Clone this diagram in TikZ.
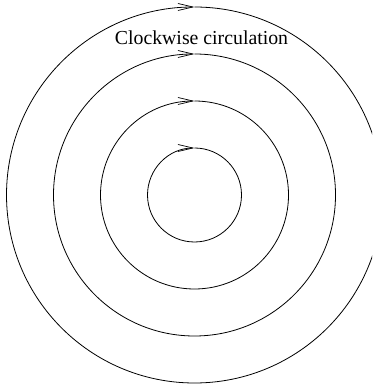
\documentclass[tikz,border=0pt]{standalone}
\usepackage{fontspec}
\setmainfont{Liberation Serif}
\usetikzlibrary{arrows.meta}
\tikzset{
  every picture/.style={x=1pt, y=1pt, line width=0.8pt},
  orbit/.style={draw=black, -{Straight Barb[length=15pt, width=7pt, line width=0.7pt]}},
  caption/.style={font=\fontsize{19.8}{24}\selectfont, anchor=base, inner sep=0pt},
}

\begin{document}
\begin{tikzpicture}
  \useasboundingbox (0,0) rectangle (372,387);
  \clip (0,0) rectangle (372,387);
  \coordinate (c) at (194.5,192);
  \foreach \r in {47,94,141,188} {
    \draw[orbit] (c) ++(90:\r) arc[start angle=90, end angle=-270, radius=\r];
  }
  \node[caption] (lbl) at (201.5,342) {Clockwise circulation};
\end{tikzpicture}
\end{document}
